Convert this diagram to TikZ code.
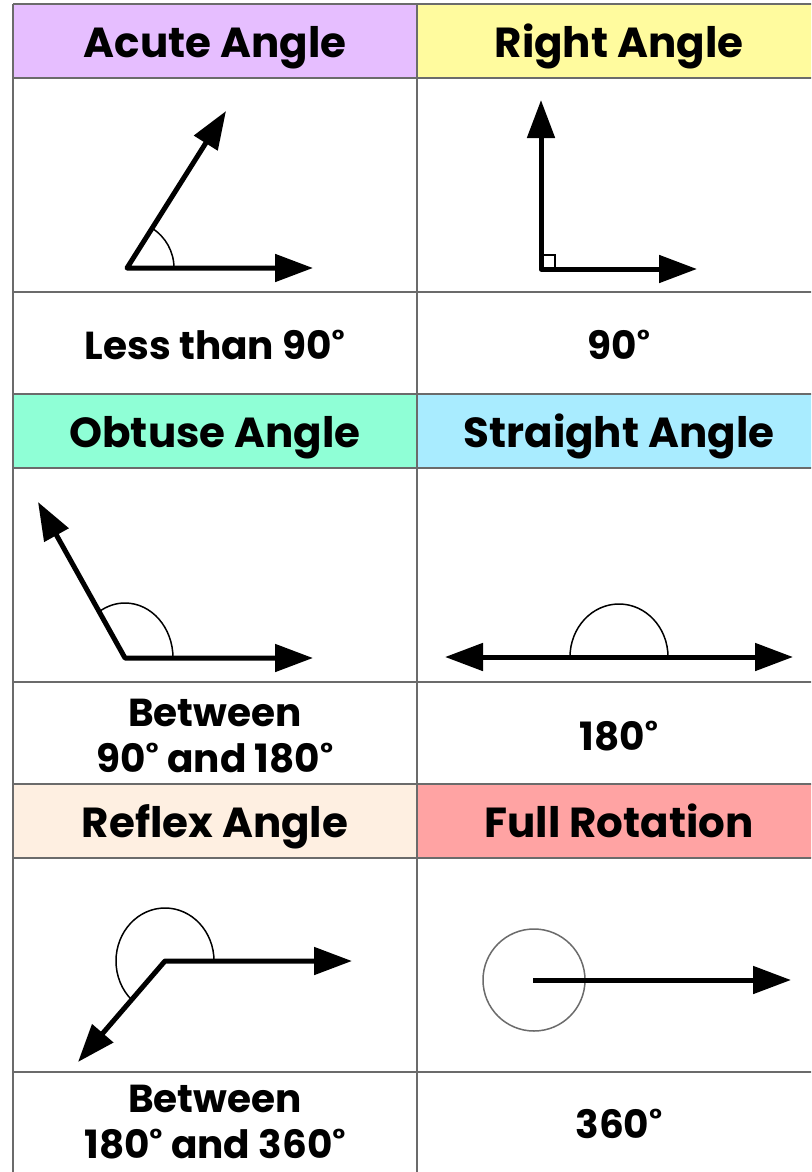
\documentclass[tikz,border=0pt]{standalone}
\usepackage{fontspec}
\setmainfont{Poppins}
\usetikzlibrary{arrows.meta}
\definecolor{purplebg}{HTML}{E6BEFF}
\definecolor{yellowbg}{HTML}{FFFB9E}
\definecolor{mintbg}{HTML}{8FFFD6}
\definecolor{bluebg}{HTML}{A9ECFF}
\definecolor{creambg}{HTML}{FEEFE1}
\definecolor{pinkbg}{HTML}{FFA3A3}
\definecolor{gridgray}{HTML}{6B6B6B}
\newcommand{\degr}{\textsuperscript{°}}
\tikzset{
  head_txt/.style={font=\fontsize{42}{48}\selectfont\bfseries,inner sep=0pt,anchor=base},
  body_txt/.style={font=\fontsize{39}{46}\selectfont\bfseries,align=center,inner sep=0pt,anchor=base},
  grid_line/.style={draw=gridgray,line width=2.5pt},
  ray/.style={-{Triangle[length=38pt,width=27pt]},line width=5pt,line join=round},
  ray_two/.style={{Triangle[length=38pt,width=27pt]}-{Triangle[length=38pt,width=27pt]},line width=5pt,line join=round},
  mark_arc/.style={draw=black,line width=1.5pt},
}

\begin{document}
\begin{tikzpicture}[x=1pt,y=1pt]

  \clip (0,0) rectangle (811,-1172);
  \fill[white] (0,0) rectangle (811,-1172);

  % header bands
  \fill[purplebg] (13,-4) rectangle (417,-78);
  \fill[yellowbg] (417,-4) rectangle (821,-78);
  \fill[mintbg] (13,-394) rectangle (417,-468);
  \fill[bluebg] (417,-394) rectangle (821,-468);
  \fill[creambg] (13,-784) rectangle (417,-858);
  \fill[pinkbg] (417,-784) rectangle (821,-858);

  % grid
  \foreach \y in {4,78,292,394,468,682,784,858,1072}
    \draw[grid_line] (13,-\y) -- (821,-\y);
  \foreach \x in {13,417}
    \draw[grid_line] (\x,-4) -- (\x,-1180);

  \node[head_txt] (acute_hd) at (215,-57) {Acute Angle};
  \node[head_txt] (right_hd) at (619,-57) {Right Angle};
  \node[head_txt] (obtuse_hd) at (215,-447) {Obtuse Angle};
  \node[head_txt] (straight_hd) at (619,-447) {Straight Angle};
  \node[head_txt] (reflex_hd) at (215,-837) {Reflex Angle};
  \node[head_txt] (full_hd) at (619,-837) {Full Rotation};

  \node[body_txt] (acute_txt) at (215,-359) {Less than 90\degr};
  \node[body_txt] (right_txt) at (619,-359) {90\degr};
  \node[body_txt] (obtuse_txt) at (215,-772) {Between\\90\degr{} and 180\degr};
  \node[body_txt] (straight_txt) at (619,-750) {180\degr};
  \node[body_txt] (reflex_txt) at (215,-1158) {Between\\180\degr{} and 360\degr};
  \node[body_txt] (full_txt) at (619,-1138) {360\degr};

  % acute
  \coordinate (ac_v) at (127,-268);
  \coordinate (ac_h) at (313,-268);
  \coordinate (ac_s) at (226,-111);
  \draw[mark_arc] ([xshift=47pt]ac_v) arc[start angle=0,end angle=58,radius=47];
  \draw[ray_two] (ac_s) -- (ac_v) -- (ac_h);

  % right
  \coordinate (rt_v) at (541,-269);
  \coordinate (rt_h) at (697,-269);
  \coordinate (rt_s) at (541,-100);
  \draw[mark_arc] (rt_v) rectangle ++(14,14);
  \draw[ray_two] (rt_s) -- (rt_v) -- (rt_h);

  % obtuse
  \coordinate (ob_v) at (125,-658);
  \coordinate (ob_h) at (313,-658);
  \coordinate (ob_s) at (38,-502);
  \draw[mark_arc] ([xshift=48pt]ob_v) arc[start angle=0,end angle=122,x radius=48,y radius=55];
  \draw[ray_two] (ob_s) -- (ob_v) -- (ob_h);

  % straight
  \coordinate (st_c) at (619,-657);
  \coordinate (st_l) at (445,-657);
  \coordinate (st_r) at (793,-657);
  \draw[mark_arc] ([xshift=49pt]st_c) arc[start angle=0,end angle=180,x radius=49,y radius=53];
  \draw[ray_two] (st_l) -- (st_r);

  % reflex
  \coordinate (rf_v) at (165,-961);
  \coordinate (rf_h) at (352,-961);
  \coordinate (rf_s) at (78,-1062);
  \draw[mark_arc] ([xshift=49pt]rf_v) arc[start angle=0,end angle=227,x radius=49,y radius=53];
  \draw[ray_two] (rf_s) -- (rf_v) -- (rf_h);

  % full rotation
  \coordinate (fr_c) at (533,-980);
  \coordinate (fr_h) at (791,-980);
  \draw[draw=gridgray,line width=1.5pt] (534,-980) circle[radius=51];
  \draw[ray] (fr_c) -- (fr_h);

\end{tikzpicture}
\end{document}
